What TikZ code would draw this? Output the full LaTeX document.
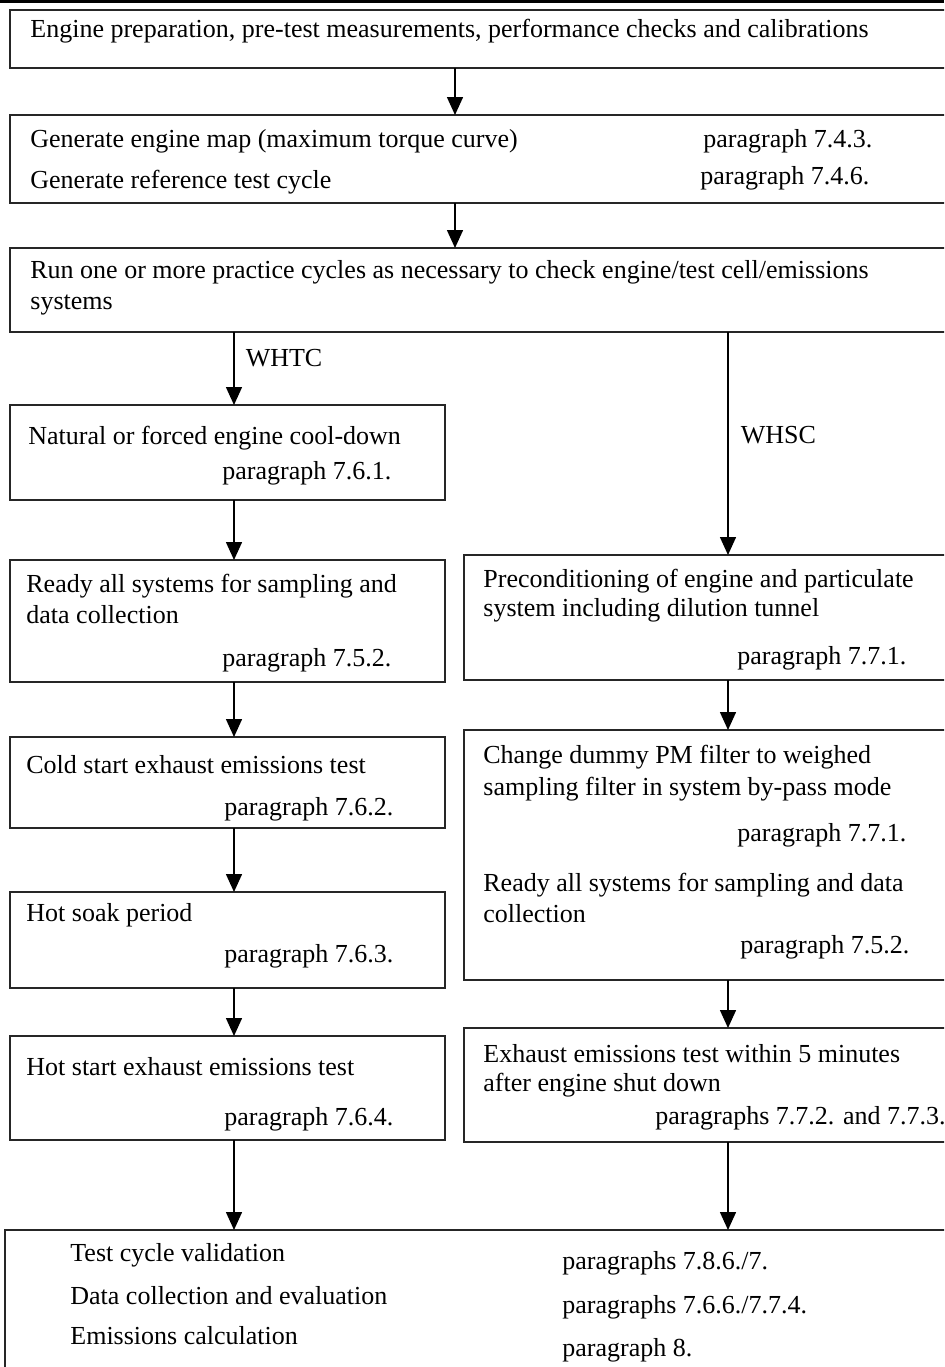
\documentclass[tikz,border=0pt]{standalone}
\usepackage{fontspec}
\setmainfont{Liberation Serif}
\usetikzlibrary{arrows.meta,positioning,calc}

\begin{document}
\begin{tikzpicture}[x=0.5pt, y=-0.5pt,
  box/.style={draw=black!85, line width=0.8pt, rectangle, anchor=north west,
    inner sep=0pt, outer sep=0pt},
  txt/.style={anchor=base west, inner sep=0pt, font=\fontsize{13}{15}\selectfont},
  flow/.style={-{Triangle[length=9pt, width=8pt]}, line width=0.75pt}]
\useasboundingbox (0,0) rectangle (944,1367);
\clip (0,0) rectangle (944,1367);
\fill[white] (0,0) rectangle (944,1367);
\draw[line width=1.5pt] (0,1) -- (944,1);

% columns of the connectors
\coordinate (mid) at (455,0);
\coordinate (lc) at (234,0);
\coordinate (rc) at (728,0);

% boxes
\node[box, minimum width=475pt, minimum height=29pt] (prep) at (10,10) {};
\node[box, minimum width=475pt, minimum height=44pt] (map) at (10,115) {};
\node[box, minimum width=475pt, minimum height=42pt] (practice) at (10,248) {};
\node[box, minimum width=217.5pt, minimum height=47.5pt] (cool) at (10,405) {};
\node[box, minimum width=217.5pt, minimum height=61pt] (readyL) at (10,560) {};
\node[box, minimum width=217.5pt, minimum height=45.5pt] (cold) at (10,737) {};
\node[box, minimum width=217.5pt, minimum height=48pt] (soak) at (10,892) {};
\node[box, minimum width=217.5pt, minimum height=52pt] (hot) at (10,1036) {};
\node[box, minimum width=250pt, minimum height=62.5pt] (precond) at (464,555) {};
\node[box, minimum width=250pt, minimum height=125pt] (change) at (464,730) {};
\node[box, minimum width=250pt, minimum height=57pt] (exhaust) at (464,1028) {};
\node[box, minimum width=480pt, minimum height=75pt] (result) at (5,1230) {};

% texts
\node[txt] (prep-a) at (30,37) {Engine preparation, pre-test measurements, performance checks and calibrations};
\node[txt] (map-a) at (30,147) {Generate engine map (maximum torque curve)};
\node[txt] (map-b) at (30,188) {Generate reference test cycle};
\node[txt] (map-c) at (703,147) {paragraph 7.4.3.};
\node[txt] (map-d) at (700,184) {paragraph 7.4.6.};
\node[txt] (practice-a) at (30,278) {Run one or more practice cycles as necessary to check engine/test cell/emissions};
\node[txt] (practice-b) at (30,309) {systems};

\node[txt] (cool-a) at (28,444) {Natural or forced engine cool-down};
\node[txt] (cool-b) at (222,479) {paragraph 7.6.1.};
\node[txt] (readyL-a) at (26,592) {Ready all systems for sampling and};
\node[txt] (readyL-b) at (26,623) {data collection};
\node[txt] (readyL-c) at (222,666) {paragraph 7.5.2.};
\node[txt] (cold-a) at (26,773) {Cold start exhaust emissions test};
\node[txt] (cold-b) at (224,815) {paragraph 7.6.2.};
\node[txt] (soak-a) at (26,921) {Hot soak period};
\node[txt] (soak-b) at (224,962) {paragraph 7.6.3.};
\node[txt] (hot-a) at (26,1075) {Hot start exhaust emissions test};
\node[txt] (hot-b) at (224,1125) {paragraph 7.6.4.};

\node[txt] (precond-a) at (483,587) {Preconditioning of engine and particulate};
\node[txt] (precond-b) at (483,616) {system including dilution tunnel};
\node[txt] (precond-c) at (737,664) {paragraph 7.7.1.};
\node[txt] (change-a) at (483,763) {Change dummy PM filter to weighed};
\node[txt] (change-b) at (483,795) {sampling filter in system by-pass mode};
\node[txt] (change-c) at (737,841) {paragraph 7.7.1.};
\node[txt] (change-d) at (483,891) {Ready all systems for sampling and data};
\node[txt] (change-e) at (483,922) {collection};
\node[txt] (change-f) at (740,953) {paragraph 7.5.2.};
\node[txt] (exhaust-a) at (483,1062) {Exhaust emissions test within 5 minutes};
\node[txt] (exhaust-b) at (483,1091) {after engine shut down};
\node[txt] (exhaust-c) at (655,1124) {paragraphs 7.7.2. and 7.7.3.};

\node[txt] (result-a) at (70,1261) {Test cycle validation};
\node[txt] (result-b) at (70,1304) {Data collection and evaluation};
\node[txt] (result-c) at (70,1344) {Emissions calculation};
\node[txt] (result-d) at (562,1269) {paragraphs 7.8.6./7.};
\node[txt] (result-e) at (562,1313) {paragraphs 7.6.6./7.7.4.};
\node[txt] (result-f) at (562,1356) {paragraph 8.};

% connectors
\draw[flow] (prep.south -| mid) -- (map.north -| mid);
\draw[flow] (map.south -| mid) -- (practice.north -| mid);
\draw[flow] (practice.south -| lc) -- node[txt, pos=0.47, xshift=5.5pt] (whtc) {WHTC} (cool.north -| lc);
\draw[flow] (practice.south -| rc) -- node[txt, pos=0.5, xshift=6pt] (whsc) {WHSC} (precond.north -| rc);
\draw[flow] (cool.south -| lc) -- (readyL.north -| lc);
\draw[flow] (readyL.south -| lc) -- (cold.north -| lc);
\draw[flow] (cold.south -| lc) -- (soak.north -| lc);
\draw[flow] (soak.south -| lc) -- (hot.north -| lc);
\draw[flow] (hot.south -| lc) -- (result.north -| lc);
\draw[flow] (precond.south -| rc) -- (change.north -| rc);
\draw[flow] (change.south -| rc) -- (exhaust.north -| rc);
\draw[flow] (exhaust.south -| rc) -- (result.north -| rc);
\end{tikzpicture}
\end{document}
